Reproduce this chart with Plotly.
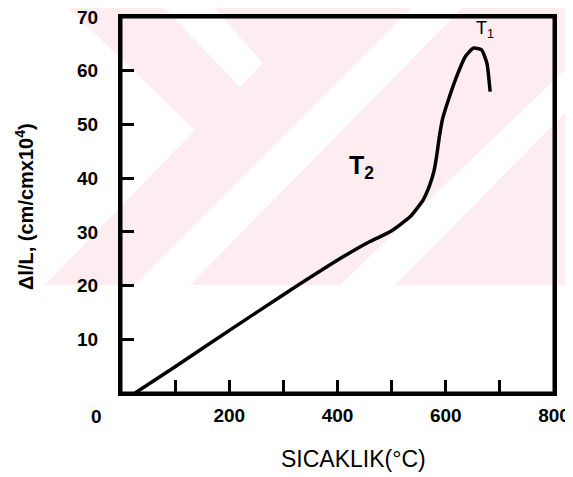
import plotly.graph_objects as go

# Data
temperature = [26, 100, 201, 300, 411, 460, 497, 534, 558, 570, 578, 583, 588, 594, 605, 620, 636, 651, 666, 676, 682]
expansion = [0, 4.9, 11.7, 18.3, 25.4, 28.2, 30.0, 32.8, 35.9, 38.6, 41.2, 44.0, 47.6, 51.0, 54.6, 58.9, 62.6, 64.2, 63.9, 61.4, 56.1]

x_tick_vals = [100, 200, 300, 400, 500, 600, 700, 800]
x_tick_text = ["", "200", "", "400", "", "600", "", "800"]
y_tick_vals = [10, 20, 30, 40, 50, 60, 70]
y_tick_text = ["10", "20", "30", "40", "50", "60", "70"]

OFF = 8  # page body margin in the browser
W, H = 573 - OFF, 477 - OFF
L, R, T, B = 121 - OFF, 19, 17 - OFF, 84
pw, ph = W - L - R, H - T - B

def px(x):
    # reference pixel x -> paper fraction
    return (x - OFF - L) / pw

def py(y):
    # reference pixel y -> paper fraction
    return (H - B - (y - OFF)) / ph

fig = go.Figure()
fig.add_trace(go.Scatter(
    x=temperature, y=expansion, mode="lines",
    line=dict(color="black", width=3.5, shape="spline", smoothing=0.5),
    hoverinfo="skip", showlegend=False,
))

PINK = "rgb(253,236,240)"
shapes = []
# faint watermark in the scanned original
shapes.append(dict(type="rect", xref="paper", yref="paper", x0=px(0), x1=px(573), y0=py(285), y1=py(0),
                   fillcolor=PINK, line=dict(width=0), layer="below"))

def poly(pts):
    d = "M " + " L ".join(f"{px(a):.4f},{py(b):.4f}" for a, b in pts) + " Z"
    return dict(type="path", xref="paper", yref="paper", path=d, fillcolor="white",
                line=dict(width=0), layer="below")

shapes.append(poly([(0, 0), (60, 0), (195, 130), (45, 285), (0, 285)]))
shapes.append(poly([(157, 0), (207, 0), (263, 63), (240, 87)]))
shapes.append(poly([(135, 285), (190, 285), (470, 0), (420, 0)]))
shapes.append(poly([(340, 285), (395, 285), (573, 105), (573, 62)]))
# plot frame
shapes.append(dict(type="rect", xref="paper", yref="paper", x0=0, x1=1, y0=0, y1=1,
                   line=dict(color="black", width=3), fillcolor="rgba(0,0,0,0)", layer="above"))

tickfont = dict(family="Liberation Sans Narrow, Liberation Sans, Arial", size=19, color="black", weight="bold")

fig.update_layout(
    width=W, height=H,
    margin=dict(l=L, r=R, t=T, b=B, autoexpand=False),
    paper_bgcolor="white", plot_bgcolor="rgba(0,0,0,0)",
    shapes=shapes,
    xaxis=dict(range=[0, 800], showgrid=False, zeroline=False, automargin=False,
               showline=True, linecolor="black", linewidth=3, mirror=True,
               ticks="inside", ticklen=13, tickwidth=2.5, tickcolor="black",
               tickvals=x_tick_vals, ticktext=x_tick_text, tickfont=tickfont,
               ticklabelstandoff=3, ticklabeloverflow="allow"),
    yaxis=dict(range=[0, 70], showgrid=False, zeroline=False, automargin=False,
               showline=True, linecolor="black", linewidth=3, mirror=True,
               ticks="inside", ticklen=13, tickwidth=2.5, tickcolor="black",
               tickvals=y_tick_vals, ticktext=y_tick_text, tickfont=tickfont,
               ticklabelstandoff=16, ticklabeloverflow="allow"),
    annotations=[
        dict(text="0", x=px(96), y=py(416), xref="paper", yref="paper", showarrow=False,
             xanchor="center", yanchor="middle", font=tickfont),
        dict(text="SICAKLIK(°C)", x=px(353), y=py(459), xref="paper", yref="paper", showarrow=False,
             xanchor="center", yanchor="middle",
             font=dict(family="Liberation Sans, Arial", size=23, color="black")),
        dict(text="Δl/L, (cm/cmx10<sup>4</sup>)", x=px(25), y=py(207), xref="paper", yref="paper",
             showarrow=False, textangle=-90, xanchor="center", yanchor="middle",
             font=dict(family="Liberation Sans, Arial", size=20, color="black", weight="bold")),
        dict(text="T<sub>2</sub>", x=px(361), y=py(167), xref="paper", yref="paper", showarrow=False,
             xanchor="center", yanchor="middle",
             font=dict(family="Liberation Sans Narrow, Liberation Sans, Arial", size=25, color="black", weight="bold")),
        dict(text="T<sub>1</sub>", x=px(485), y=py(30), xref="paper", yref="paper", showarrow=False,
             xanchor="center", yanchor="middle",
             font=dict(family="Liberation Sans, Arial", size=18, color="black")),
    ],
)

fig.write_html("out.html")
